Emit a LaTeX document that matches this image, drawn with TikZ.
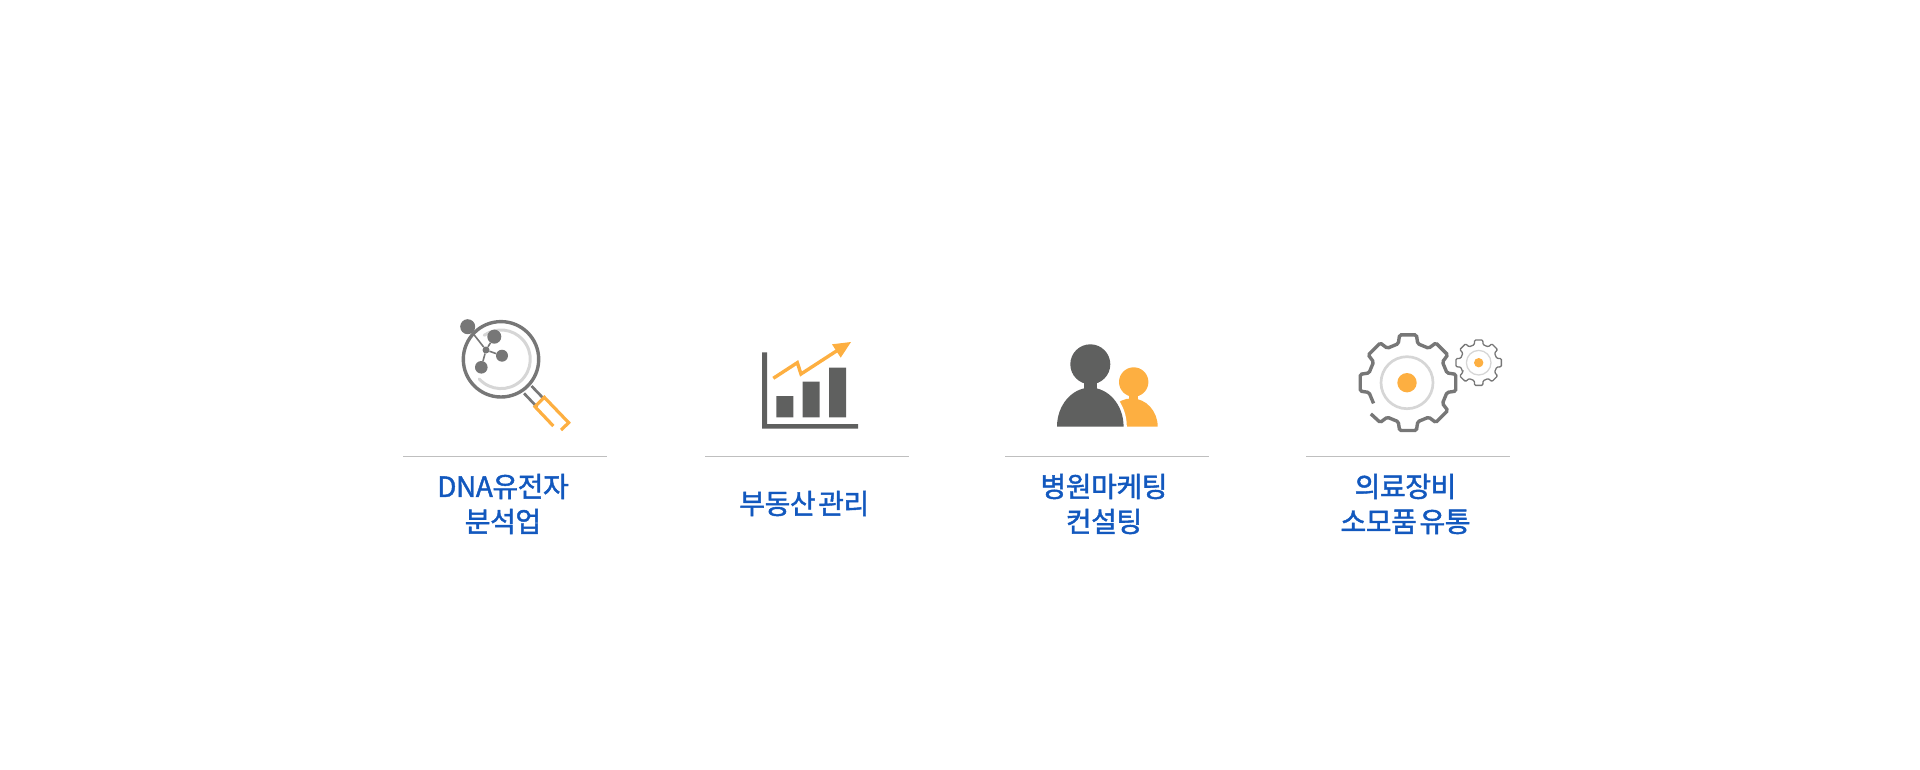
\documentclass[tikz,border=0pt]{standalone}
\usepackage{fontspec}
\newfontfamily\krfont[LetterSpace=-1.6,WordSpace=0.45,FakeBold=1.5]{Noto Sans CJK KR}
\definecolor{icongray}{HTML}{5F605F}
\definecolor{linegray}{HTML}{777777}
\definecolor{softgray}{HTML}{D6D6D6}
\definecolor{iconorange}{HTML}{FDAF41}
\definecolor{labelblue}{HTML}{1258BE}
\tikzset{
	label/.style={text=labelblue,align=center,inner sep=0pt,font=\krfont\fontsize{28}{35}\selectfont},
	rulebar/.style={draw=black!25,line width=1.1pt},
	lens/.style={draw=linegray,line width=3.4pt},
	atom/.style={fill=linegray,circle,inner sep=0pt}
}
% r1 = root radius, r2 = tip radius; the path starts and stops at the open tooth
\newcommand{\gearteeth}[2]{
	(149:#1) foreach \a in {180,225,...,450} {
		-- (\a-14:#1) -- (\a-10:#2) -- (\a+10:#2) -- (\a+14:#1)
	} -- (481:#1) -- (485:#2) -- (500:#2)
}
\begin{document}
\begin{tikzpicture}[x=1pt,y=-1pt]
	\useasboundingbox (0,0) rectangle (1920,770);
	% column rules
	\foreach \x in {403,705,1005,1306}
		\draw[rulebar] (\x,456.5) -- ++(203.5,0);
	% magnifier
	\draw[softgray,line width=3pt,line cap=round] (479.2,378.9) arc[start angle=138,end angle=-125,radius=29.3];
	\draw[lens] (501,359.3) circle (37.7);
	\draw[linegray,line width=2.7pt] (524,393.3) -- (537,407) (531.5,386) -- (543.5,398.5);
	\draw[iconorange,line width=3.2pt] (553.3,426) -- (535,406.7) -- (544.3,397.3) -- (568.7,422.7) -- (561,430);
	\node[atom,minimum size=7] (hub) at (486,350) {};
	\node[atom,minimum size=15] (atomA) at (467.7,326.7) {};
	\node[atom,minimum size=14] (atomB) at (494.3,336.7) {};
	\node[atom,minimum size=12] (atomC) at (502,355.7) {};
	\node[atom,minimum size=12.6] (atomD) at (481.3,367.3) {};
	\draw[linegray,line width=1.6pt] (hub) -- (atomA) (hub) -- (atomB) (hub) -- (atomC) (hub) -- (atomD);
	% bar chart
	\fill[icongray] (762,352.3) rectangle (767,428.7) (762,424) rectangle (858,428.7);
	\fill[icongray] (776.3,396) rectangle (793.3,417.3) (802.7,381.7) rectangle (819.7,417.3) (829,367.7) rectangle (846,417.3);
	\draw[iconorange,line width=3.4pt] (773.3,378.3) -- (797.3,362.7) -- (801,374) -- (838,350);
	\fill[iconorange] (851,342) -- (832,344.3) -- (840.7,357.7) -- cycle;
	% people
	\fill[iconorange] (1105.7,426.7) arc[start angle=180,end angle=360,x radius=26,y radius=28.3] -- cycle;
	\fill[iconorange] (1129.3,390) rectangle (1138.3,402);
	\fill[iconorange] (1133.7,382) circle (14.7);
	\draw[white,line width=6.4pt] (1057,426.7) arc[start angle=180,end angle=360,x radius=33.3,y radius=39] -- cycle;
	\fill[icongray] (1057,426.7) arc[start angle=180,end angle=360,x radius=33.3,y radius=39] -- cycle;
	\fill[icongray] (1084,375) rectangle (1096.7,392);
	\fill[icongray] (1090.3,364.3) circle (20);
	% gears
	\begin{scope}[shift={(1408,382.7)}]
		\draw[linegray,line width=3.4pt,rounded corners=1.5pt] \gearteeth{40.2}{48.5};
		\draw[softgray,line width=2.7pt] (-1,0) circle (26);
		\fill[iconorange] (-1,0) circle (9.7);
	\end{scope}
	\begin{scope}[shift={(1478.7,362.7)}]
		\draw[linegray,line width=1.3pt,rounded corners=1pt] \gearteeth{18.5}{23} -- (505:23) -- (509:18.5) -- cycle;
		\draw[softgray,line width=1.3pt] (0,0) circle (12.3);
		\fill[iconorange] (0,0) circle (4.7);
	\end{scope}
	% labels
	\node[label] (dna) at (503,504) {DNA유전자\\분석업};
	\node[label] (estate) at (804.3,503.5) {부동산 관리};
	\node[label] (hospital) at (1104,504) {병원마케팅\\컨설팅};
	\node[label] (medical) at (1405.5,504) {의료장비\\소모품 유통};
\end{tikzpicture}
\end{document}
